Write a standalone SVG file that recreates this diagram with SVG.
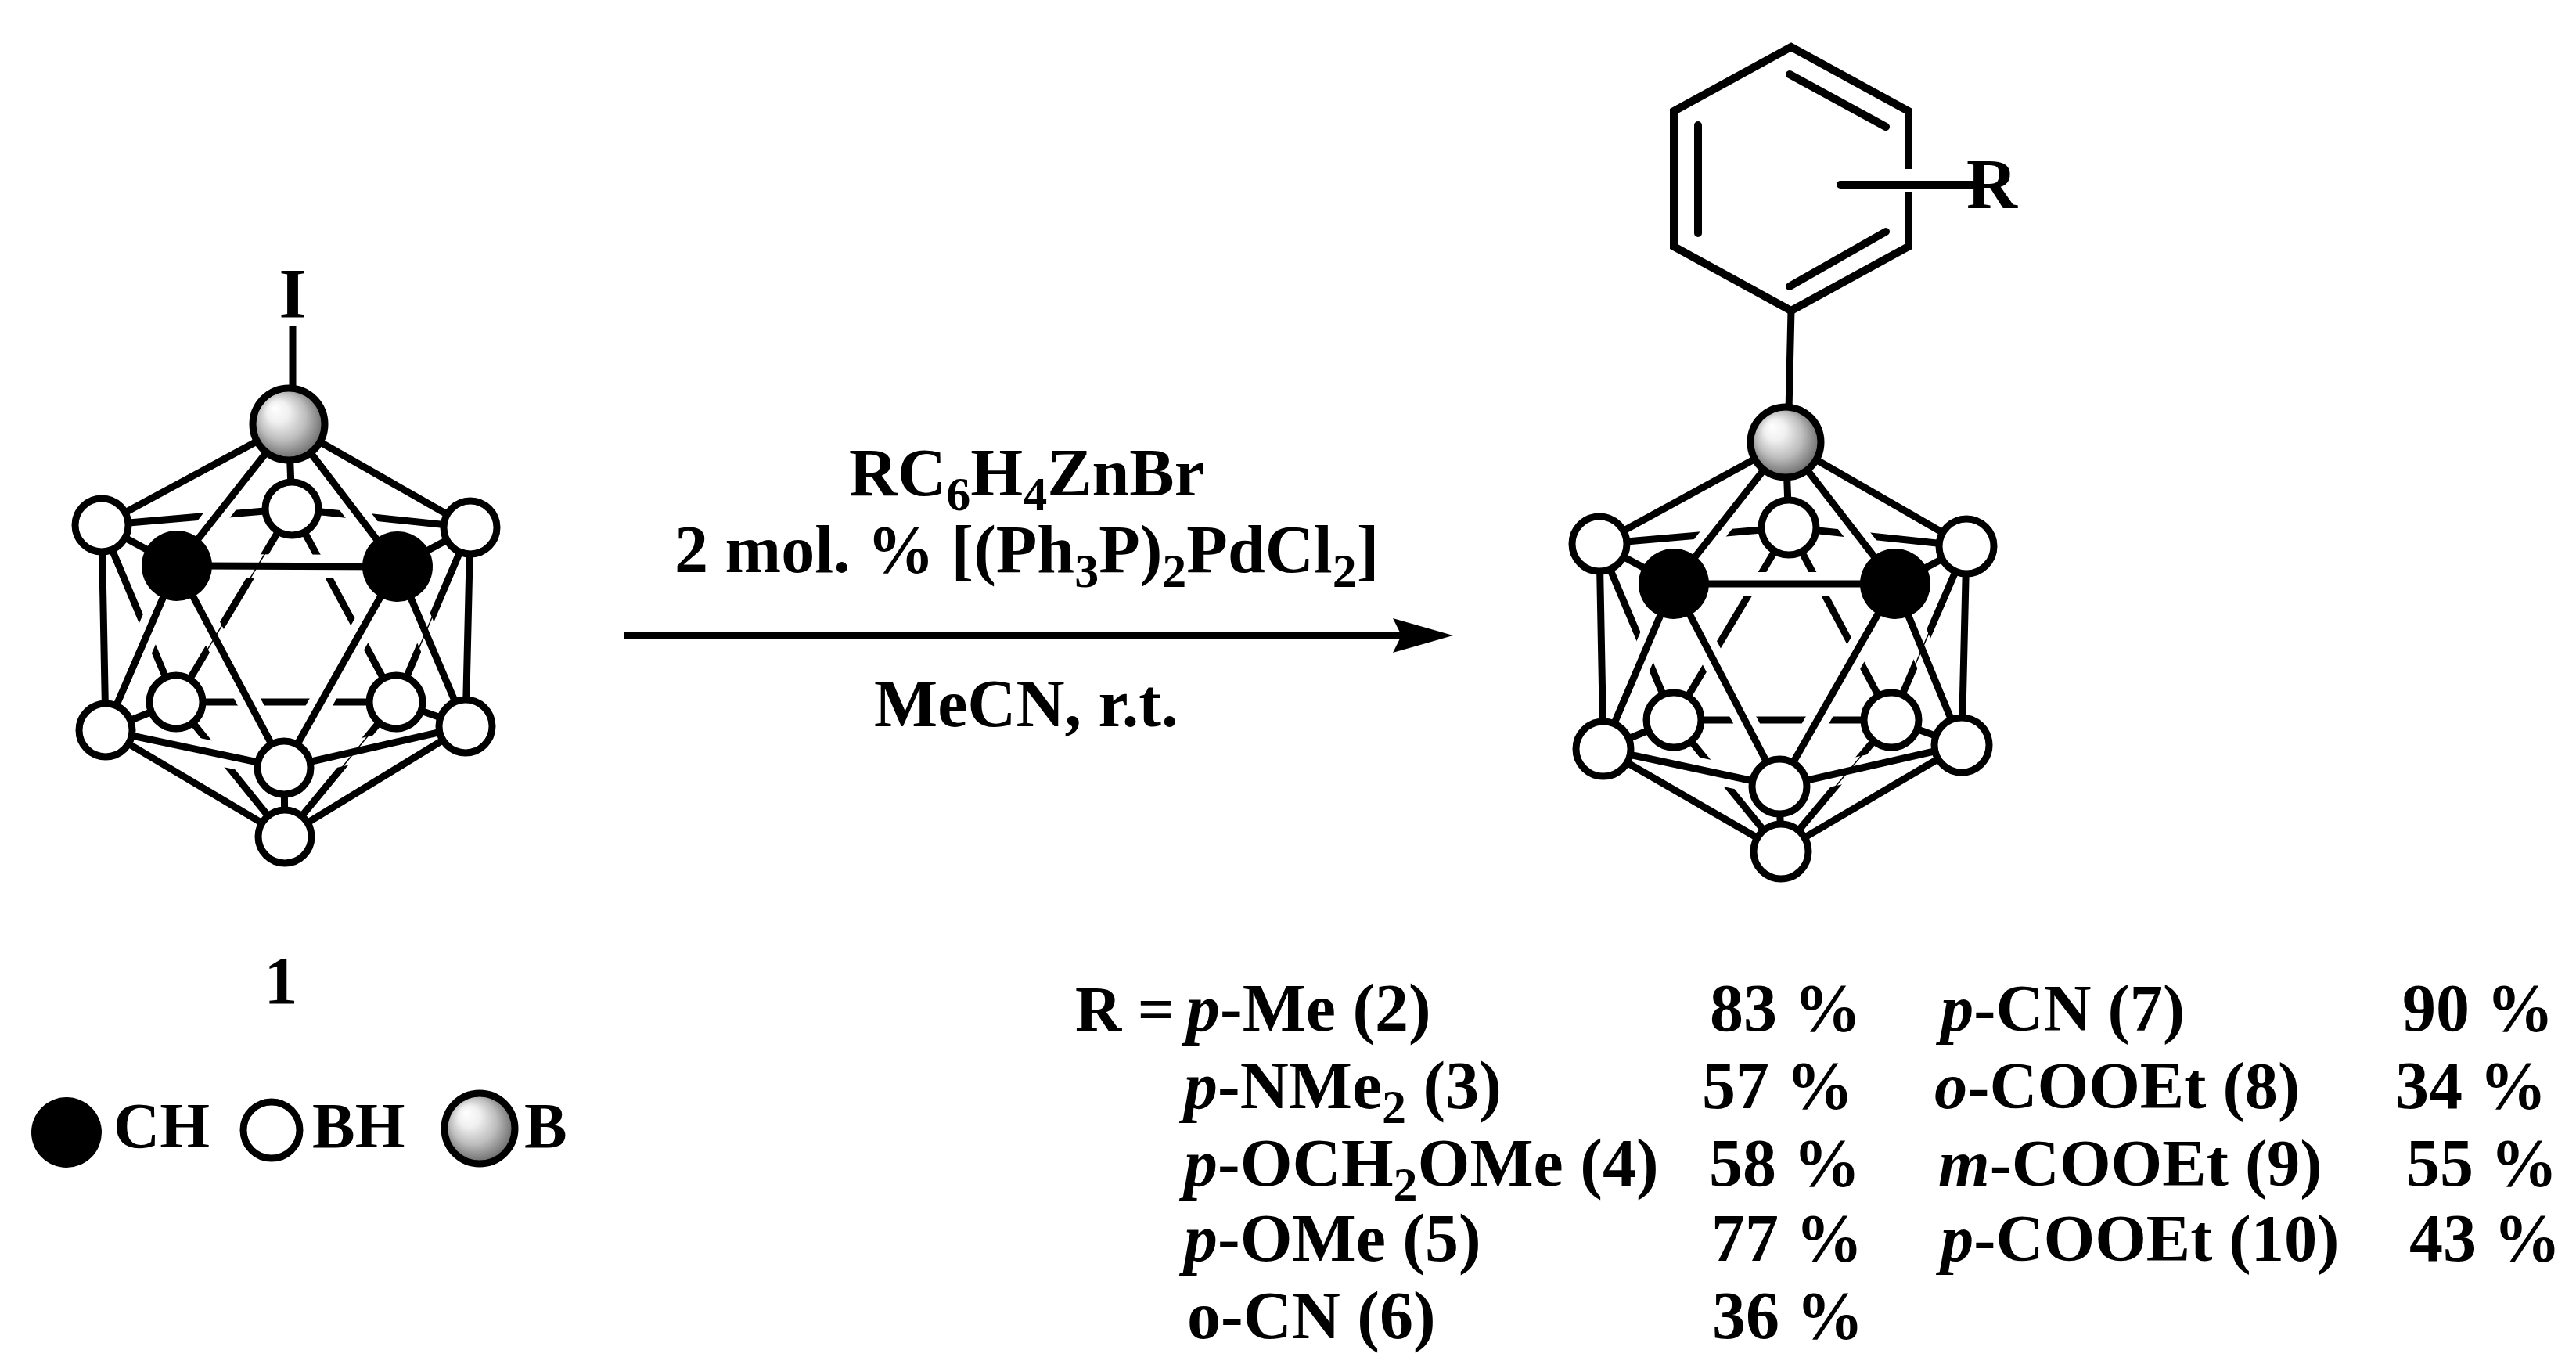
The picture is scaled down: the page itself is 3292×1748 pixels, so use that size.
<svg xmlns="http://www.w3.org/2000/svg" width="3292" height="1748" viewBox="0 0 3292 1748">
<style>
text{font-family:"Liberation Serif","Times New Roman",serif;font-weight:bold;font-size:86px;fill:#000}
.i{font-style:italic}
.s{font-size:62px}
.l{font-size:82px}
.a{font-size:90px}
.r{font-size:84.5px}
.bond{fill:none;stroke:#000;stroke-width:9}
.hex{stroke-width:10}
.halo{fill:none;stroke:#fff;stroke-width:30}
.hair{fill:none;stroke:#000;stroke-width:1.5}
.bh{fill:#fff;stroke:#000;stroke-width:9}
.ch{fill:#000}
.b{fill:url(#ball);stroke:#000;stroke-width:9}
</style>
<defs>
<radialGradient id="ball" cx="0.5" cy="0.5" r="0.6" fx="0.3" fy="0.27">
<stop offset="0" stop-color="#fff"/><stop offset="0.25" stop-color="#f0f0f0"/><stop offset="0.55" stop-color="#bdbdbd"/><stop offset="0.8" stop-color="#7c7c7c"/><stop offset="1" stop-color="#404040"/>
</radialGradient>
<marker id="head" markerUnits="userSpaceOnUse" markerWidth="80" markerHeight="50" refX="15" refY="22" orient="auto">
<path d="M0 0L77 22L0 44L11 22Z" fill="#000"/>
</marker>
<path id="c1halo" d="M369 542L226 723M369 542L508 724M226 723L508 724M226 723L135 933M226 723L363 981M508 724L363 981M508 724L595 928M135 933L363 981M595 928L363 981"/>
<path id="c2halo" d="M2282 565L2139 746M2282 565L2422 746M2139 746L2422 746M2139 746L2049 957M2139 746L2274 1005M2422 746L2274 1005M2422 746L2507 952M2049 957L2274 1005M2507 952L2274 1005"/>
</defs>
<rect width="3292" height="1748" fill="#fff"/>
<g id="connectors">
<g id="cage1-bonds">
<path class="bond" d="M369 542L373 650M373 650L130 671M373 650L601 674M373 650L225 897M373 650L506 897M130 671L225 897M601 674L506 897M225 897L506 897M225 897L135 933M506 897L595 928M225 897L364 1069M506 897L364 1069"/>
<use href="#c1halo" class="halo"/>
<path class="hair" d="M373 650L225 897M601 674L506 897M506 897L364 1069"/>
<use href="#c1halo" class="bond"/>
<path class="bond" d="M374 417L374 500M369 542L130 671M369 542L601 674M226 723L130 671M508 724L601 674M130 671L135 933M601 674L595 928M135 933L364 1069M595 928L364 1069M363 981L364 1069"/>
</g>
<g id="cage2-bonds">
<path class="bond" d="M2282 565L2286 674M2286 674L2044 695M2286 674L2513 698M2286 674L2139 920M2286 674L2417 920M2044 695L2139 920M2513 698L2417 920M2139 920L2417 920M2139 920L2049 957M2417 920L2507 952M2139 920L2276 1088M2417 920L2276 1088"/>
<use href="#c2halo" class="halo"/>
<path class="hair" d="M2513 698L2417 920M2417 920L2276 1088"/>
<use href="#c2halo" class="bond"/>
<path class="bond" d="M2289 397L2286 525M2282 565L2044 695M2282 565L2513 698M2139 746L2044 695M2422 746L2513 698M2044 695L2049 957M2513 698L2507 952M2049 957L2276 1088M2507 952L2276 1088M2274 1005L2276 1088"/>
</g>
<g id="phenyl-bonds">
<path class="bond hex" d="M2439 216L2439 142L2289 60L2139 142L2139 315L2289 397L2439 315L2439 245"/>
<path class="bond hex" stroke-linecap="round" d="M2287 95L2410 162M2170 160L2170 298M2287 366L2410 296M2352 236L2521 236"/>
</g>
<line id="reaction-arrow" x1="797" y1="812" x2="1795" y2="812" stroke="#000" stroke-width="9" marker-end="url(#head)"/>
</g>
<g id="cage1">
<circle id="c1-T" class="b" cx="369" cy="542" r="46"/>
<circle id="c1-BT" class="bh" cx="373" cy="650" r="34"/>
<circle id="c1-LU" class="bh" cx="130" cy="671" r="34"/>
<circle id="c1-RU" class="bh" cx="601" cy="674" r="34"/>
<circle id="c1-CL" class="ch" cx="226" cy="723" r="45"/>
<circle id="c1-CR" class="ch" cx="508" cy="724" r="45"/>
<circle id="c1-BLL" class="bh" cx="225" cy="897" r="34"/>
<circle id="c1-BLR" class="bh" cx="506" cy="897" r="34"/>
<circle id="c1-LL" class="bh" cx="135" cy="933" r="34"/>
<circle id="c1-RL" class="bh" cx="595" cy="928" r="34"/>
<circle id="c1-Bo" class="bh" cx="364" cy="1069" r="34"/>
<circle id="c1-F" class="bh" cx="363" cy="981" r="34"/>
</g>
<g id="cage2">
<circle id="c2-T" class="b" cx="2282" cy="565" r="45"/>
<circle id="c2-BT" class="bh" cx="2286" cy="674" r="35"/>
<circle id="c2-LU" class="bh" cx="2044" cy="695" r="35"/>
<circle id="c2-RU" class="bh" cx="2513" cy="698" r="35"/>
<circle id="c2-CL" class="ch" cx="2139" cy="746" r="45"/>
<circle id="c2-CR" class="ch" cx="2422" cy="746" r="45"/>
<circle id="c2-BLL" class="bh" cx="2139" cy="920" r="35"/>
<circle id="c2-BLR" class="bh" cx="2417" cy="920" r="35"/>
<circle id="c2-LL" class="bh" cx="2049" cy="957" r="35"/>
<circle id="c2-RL" class="bh" cx="2507" cy="952" r="35"/>
<circle id="c2-Bo" class="bh" cx="2276" cy="1088" r="35"/>
<circle id="c2-F" class="bh" cx="2274" cy="1005" r="35"/>
</g>
<g id="atom-labels">
<text class="a" x="374" y="406" text-anchor="middle">I</text>
<text class="a" x="2513" y="266">R</text>
<text x="359" y="1282" text-anchor="middle">1</text>
</g>
<g id="reagents">
<text x="1085" y="633">RC<tspan class="s" dy="19">6</tspan><tspan dy="-19">H</tspan><tspan class="s" dy="19">4</tspan><tspan dy="-19">ZnBr</tspan></text>
<text x="862" y="731">2 mol. % [(Ph<tspan class="s" dy="19">3</tspan><tspan dy="-19">P)</tspan><tspan class="s" dy="19">2</tspan><tspan dy="-19">PdCl</tspan><tspan class="s" dy="19">2</tspan><tspan dy="-19">]</tspan></text>
<text x="1117" y="928">MeCN, r.t.</text>
</g>
<g id="legend">
<g id="legend-ch"><circle class="ch" cx="85" cy="1447" r="45"/><text class="l" x="145" y="1466">CH</text></g>
<g id="legend-bh"><circle class="bh" cx="347" cy="1444" r="36"/><text class="l" x="399" y="1466">BH</text></g>
<g id="legend-b"><circle class="b" cx="613" cy="1442" r="45"/><text class="l" x="670" y="1466">B</text></g>
</g>
<g id="yields">
<text class="l" x="1374" y="1317">R =</text>
<text x="1516" y="1317"><tspan class="i">p</tspan>-Me (2)</text>
<text x="2185" y="1317">83 %</text>
<text x="1513" y="1416"><tspan class="i">p</tspan>-NMe<tspan class="s" dy="19">2</tspan><tspan dy="-19"> (3)</tspan></text>
<text x="2175" y="1416">57 %</text>
<text x="1513" y="1515"><tspan class="i">p</tspan>-OCH<tspan class="s" dy="19">2</tspan><tspan dy="-19">OMe (4)</tspan></text>
<text x="2184" y="1515">58 %</text>
<text x="1513" y="1611"><tspan class="i">p</tspan>-OMe (5)</text>
<text x="2187" y="1611">77 %</text>
<text x="1517" y="1710">o-CN (6)</text>
<text x="2188" y="1710">36 %</text>
<text class="r" x="2480" y="1317"><tspan class="i">p</tspan>-CN (7)</text>
<text x="3070" y="1317">90 %</text>
<text class="r" x="2472" y="1416"><tspan class="i">o</tspan>-COOEt (8)</text>
<text x="3061" y="1416">34 %</text>
<text class="r" x="2477" y="1515"><tspan class="i">m</tspan>-COOEt (9)</text>
<text x="3075" y="1515">55 %</text>
<text class="r" x="2480" y="1611"><tspan class="i">p</tspan>-COOEt (10)</text>
<text x="3079" y="1611">43 %</text>
</g>
</svg>
